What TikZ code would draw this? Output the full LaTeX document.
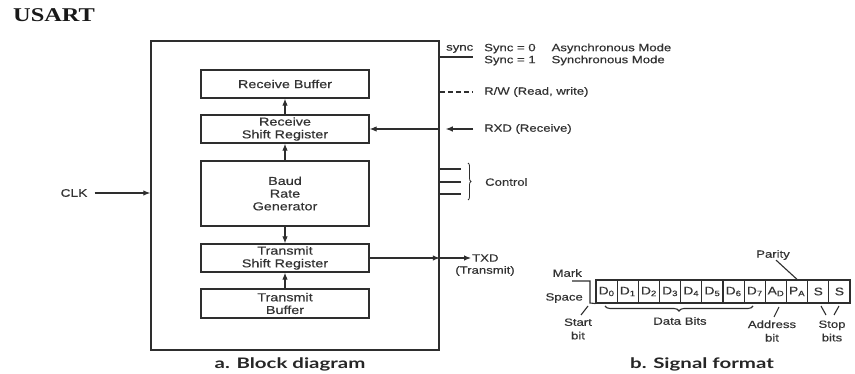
\documentclass[tikz,border=0pt]{standalone}
\usepackage{fontspec}
\setmainfont{Liberation Sans}
\newfontfamily\lab[FakeStretch=1.25,FakeBold=0.4]{Liberation Sans}
\newfontfamily\ttlfont[FakeStretch=1.25]{Liberation Serif}
\newfontfamily\capfont[FakeStretch=1.41]{Lato}
\usetikzlibrary{arrows.meta,decorations.pathreplacing}
\definecolor{ink}{HTML}{2E2E2E}
\definecolor{txt}{HTML}{333333}
\begin{document}
\begin{tikzpicture}[x=1pt,y=-1pt,
 blk/.style={draw=ink,line width=1.3pt,minimum width=168pt,inner sep=0pt,align=center,font=\lab\fontsize{11.5}{12.7}\selectfont,text=txt},
 arr/.style={-{Latex[length=7pt,width=5.5pt]},draw=ink,line width=1.1pt},
 ln/.style={draw=ink,line width=1.1pt},
 lbl/.style={font=\lab\fontsize{10.5}{13.5}\selectfont,text=txt,inner sep=0pt},
 cell/.style={draw=ink,line width=1.1pt,minimum width=21.17pt,minimum height=23pt,inner sep=0pt,font=\lab\fontsize{11}{12}\selectfont,text=txt},
 capt/.style={font=\capfont\bfseries\fontsize{14.5}{16}\selectfont,text=black!85,inner sep=0pt}
]
\useasboundingbox (0,0) rectangle (855,374);
\fill[white] (0,0) rectangle (855,374);

\node[font=\ttlfont\bfseries\fontsize{19.5}{21}\selectfont,anchor=west,inner sep=0pt,text=black!90] (title) at (13,15) {USART};

% block diagram
\node[draw=ink,line width=1.5pt,minimum width=288pt,minimum height=309pt,inner sep=0pt] (usart) at (295,195.5) {};
\node[blk,minimum height=28pt] (rb) at (285,84) {Receive Buffer};
\node[blk,minimum height=28pt] (rsr) at (285,129) {Receive\\Shift Register};
\node[blk,minimum height=65pt] (brg) at (285,193.5) {Baud\\Rate\\Generator};
\node[blk,minimum height=28pt] (tsr) at (285,258) {Transmit\\Shift Register};
\node[blk,minimum height=29pt] (tb) at (285,303.5) {Transmit\\Buffer};

\draw[arr] (rsr) -- (rb);
\draw[arr] (brg) -- (rsr);
\draw[arr] (brg) -- (tsr);
\draw[arr] (tb) -- (tsr);

% CLK
\node[lbl,font=\lab\fontsize{11}{13}\selectfont] (clk) at (74,193) {CLK};
\coordinate (clkedge) at (usart.west |- clk.east);
\draw[arr] ([xshift=7pt]clk.east) -- (clkedge);

% sync
\node[lbl,anchor=south west] (sync) at (446,53) {sync};
\coordinate (syncend) at (473,57);
\draw[ln] (usart.east |- syncend) -- (syncend);
\node[lbl,anchor=west] (modes) at (484,54.5) {\begin{tabular}{@{}l@{\hspace{16pt}}l@{}}Sync = 0 & Asynchronous Mode\\[-1.5pt] Sync = 1 & Synchronous Mode\end{tabular}};

% R/W
\coordinate (rwend) at (472,92);
\draw[ln,dash pattern=on 5pt off 3pt] (usart.east |- rwend) -- (rwend);
\node[lbl,anchor=west] (rw) at (484,92) {R/W (Read, write)};

% RXD
\node[lbl,anchor=west] (rxd) at (484,129) {RXD (Receive)};
\coordinate (rxedge) at (usart.east |- rsr.east);
\draw[arr,shorten >=6pt] ([xshift=-11pt]rxd.west) -- (rxedge);
\draw[arr] (rxedge) -- (rsr.east);

% Control
\coordinate (ctl1) at (461,169);
\coordinate (ctl2) at (461,182);
\coordinate (ctl3) at (461,194);
\draw[ln] (usart.east |- ctl1) -- (ctl1);
\draw[ln] (usart.east |- ctl2) -- (ctl2);
\draw[ln] (usart.east |- ctl3) -- (ctl3);
\draw[ln,line width=0.8pt,decorate,decoration={brace,amplitude=3pt}] (468,163) -- (468,200);
\node[lbl,anchor=west] (control) at (485,182) {Control};

% TXD
\coordinate (txedge) at (usart.east |- tsr.east);
\coordinate (txend) at (471,258);
\draw[arr] (tsr.east) -- (txedge);
\draw[arr] (txedge) -- (txend);
\node[lbl,anchor=west] (txd) at (472,258) {TXD};
\node[lbl] (txd2) at (485,271) {(Transmit)};

\node[capt] (capa) at (290,364) {a. Block diagram};

% signal format
\foreach \t [count=\i from 0] in {D\textsubscript{0},D\textsubscript{1},D\textsubscript{2},D\textsubscript{3},D\textsubscript{4},D\textsubscript{5},D\textsubscript{6},D\textsubscript{7},A\textsubscript{D},P\textsubscript{A},S,S}
  \node[cell] (c\i) at ({596+21.17*\i+10.585},291.5) {\t};

\node[lbl,anchor=east] (mark) at (582,273) {Mark};
\node[lbl,anchor=east] (space) at (583,298) {Space};
\coordinate (w0) at (572,281);
\coordinate (w1) at (590,281);
\coordinate (w2) at (590,303);
\draw[ln] (w0) -- (w1) -- (w2) -- (c0.south west);

\node[lbl,align=center] (start) at (578,329) {Start\\bit};
\draw[ln] (588,306) -- (581,315);

\draw[ln,decorate,decoration={brace,amplitude=5pt}] (753,306) -- (605,306);
\node[lbl] (databits) at (680,321) {Data Bits};

\node[lbl,align=center] (addr) at (772,331) {Address\\bit};
\draw[ln] (779,307) -- (774,317);

\node[lbl] (parity) at (773,255) {Parity};
\draw[ln] ([xshift=3pt]parity.south) -- (c9.north);

\node[lbl,align=center] (stop) at (832,331) {Stop\\bits};
\draw[ln] (821,306) -- (826,315);
\draw[ln] (839,306) -- (834,315);

\node[capt] (capb) at (702,364) {b. Signal format};
\end{tikzpicture}
\end{document}
